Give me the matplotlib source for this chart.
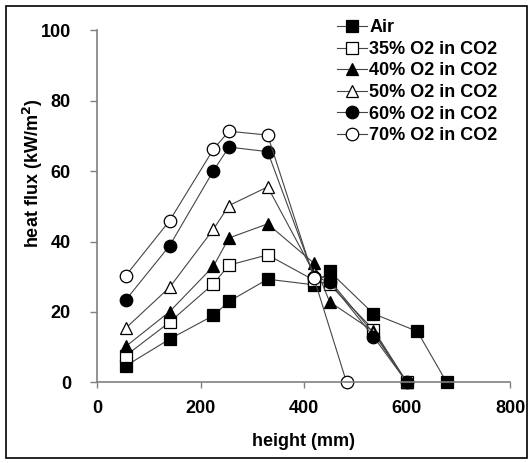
import matplotlib
matplotlib.use('Agg')
import matplotlib.pyplot as plt
from matplotlib.patches import Rectangle

plt.rcParams['font.family'] = ['Liberation Sans', 'DejaVu Sans']
plt.rcParams['font.weight'] = 'bold'

# heights (mm) and heat flux (kW/m2)
x_air = [55, 140, 225, 255, 330, 420, 450, 535, 620, 677]
y_air = [4.7, 12.3, 19.0, 23.0, 29.3, 27.7, 31.5, 19.5, 14.5, 0]

x_o2 = [55, 140, 225, 255, 330, 420, 450, 535, 600]
y_35 = [7.6, 17.1, 28.0, 33.3, 36.2, 29.0, 27.8, 15.0, 0]
y_40 = [10.2, 20.1, 33.0, 41.0, 45.0, 33.8, 22.9, 14.5, 0]
y_50 = [15.4, 27.0, 43.5, 50.2, 55.5, 31.0, 29.0, 14.0, 0]
y_60 = [23.4, 38.8, 60.1, 66.8, 65.5, 30.0, 28.5, 13.0, 0]

x_70 = [55, 140, 225, 255, 330, 420, 483]
y_70 = [30.3, 45.9, 66.2, 71.3, 70.2, 29.5, 0]

labels = ['Air', '35% O2 in CO2', '40% O2 in CO2', '50% O2 in CO2',
          '60% O2 in CO2', '70% O2 in CO2']

fig = plt.figure(figsize=(5.32, 4.63), dpi=100)
ax = fig.add_axes([0.183, 0.174, 0.776, 0.761])

series = [
    (x_air, y_air, 's', 'black'),
    (x_o2, y_35, 's', 'white'),
    (x_o2, y_40, '^', 'black'),
    (x_o2, y_50, '^', 'white'),
    (x_o2, y_60, 'o', 'black'),
    (x_70, y_70, 'o', 'white'),
]
for (xs, ys, m, fc), lab in zip(series, labels):
    ax.plot(xs, ys, color='#454545', lw=0.8, marker=m, markersize=9,
            markerfacecolor=fc, markeredgecolor='black', markeredgewidth=0.9,
            label=lab, clip_on=False)

ax.set_xlim(0, 800)
ax.set_ylim(0, 100)
ax.set_xticks([0, 200, 400, 600, 800])
ax.set_yticks([0, 20, 40, 60, 80, 100])
for s in ['top', 'right']:
    ax.spines[s].set_visible(False)
for s in ['left', 'bottom']:
    ax.spines[s].set_color('#808080')
    ax.spines[s].set_linewidth(1.2)
ax.tick_params(axis='x', direction='out', length=4, width=1, color='#808080',
               labelsize=13, pad=8.5)
ax.tick_params(axis='y', direction='out', length=5, width=1, color='#808080',
               labelsize=13, pad=14)
for t in ax.get_xticklabels() + ax.get_yticklabels():
    t.set_fontweight('bold')

ax.set_xlabel('height (mm)', fontsize=13, fontweight='bold', labelpad=12)
ax.set_ylabel('heat flux (kW/m$^\\mathbf{2}$)', fontsize=13, fontweight='bold')
ax.yaxis.set_label_coords(-0.126, 0.594)

leg = fig.legend(*ax.get_legend_handles_labels(), loc='upper left',
                 bbox_to_anchor=(0.633, 0.958), frameon=False,
                 fontsize=13, handlelength=1.7, handletextpad=0.1,
                 labelspacing=0.25, borderpad=0, borderaxespad=0)
for t in leg.get_texts():
    t.set_fontweight('bold')

fig.patches.append(Rectangle((0.011, 0.01), 0.98, 0.978, transform=fig.transFigure,
                             fill=False, edgecolor='black', lw=1.2))

fig.savefig('out.png', dpi=100)
